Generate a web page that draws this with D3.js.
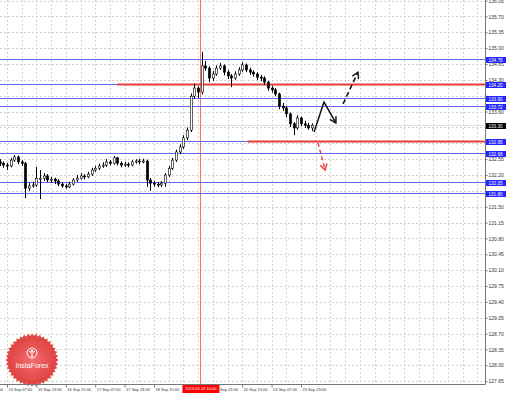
<!DOCTYPE html>
<html>
<head>
<meta charset="utf-8">
<script src="https://cdn.jsdelivr.net/npm/d3@7"></script>
<style>
  html, body { margin: 0; padding: 0; background: #fff; }
  svg { display: block; }
</style>
</head>
<body>
<div id="chart"></div>
<script>
// 2-hour candles, position measured in hours from 13 Sep 07:00 (weekends skipped)
const barIndex = d3.range(-4, 168, 2)
const firstOpen = 132.49
const closes = [
  132.46, 132.42, 132.40, 132.53, 132.60, 132.49, 132.46, 131.91, 131.96, 131.98,
  132.13, 132.13, 132.18, 132.09, 132.11, 132.07, 132.00, 131.96, 131.94, 132.00,
  132.09, 132.13, 132.18, 132.16, 132.22, 132.31, 132.35, 132.40, 132.42, 132.49,
  132.46, 132.58, 132.46, 132.42, 132.44, 132.42, 132.49, 132.51, 132.49, 132.51,
  132.09, 132.02, 132.00, 131.98, 132.02, 132.20, 132.35, 132.53, 132.71, 132.82,
  133.02, 133.19, 133.94, 134.12, 134.03, 134.61, 134.56, 134.34, 134.43, 134.56,
  134.61, 134.47, 134.39, 134.34, 134.43, 134.52, 134.63, 134.52, 134.47, 134.43,
  134.36, 134.34, 134.25, 134.12, 134.08, 133.99, 133.72, 133.68, 133.55, 133.33,
  133.24, 133.46, 133.33, 133.30, 133.24, 133.30
]
const highs = [
  132.55, 132.50, 132.47, 132.58, 132.64, 132.63, 132.53, 132.49, 132.02, 132.05,
  132.38, 132.31, 132.24, 132.22, 132.16, 132.14, 132.11, 132.04, 132.01, 132.05,
  132.13, 132.20, 132.24, 132.22, 132.27, 132.36, 132.40, 132.45, 132.48, 132.55,
  132.53, 132.62, 132.60, 132.50, 132.49, 132.48, 132.53, 132.55, 132.56, 132.56,
  132.54, 132.13, 132.07, 132.04, 132.07, 132.24, 132.40, 132.58, 132.76, 132.88,
  133.08, 133.25, 134.00, 134.22, 134.16, 134.92, 134.72, 134.60, 134.50, 134.62,
  134.67, 134.64, 134.52, 134.43, 134.49, 134.58, 134.69, 134.66, 134.57, 134.51,
  134.47, 134.41, 134.38, 134.28, 134.17, 134.12, 134.02, 133.79, 133.72, 133.58,
  133.37, 133.52, 133.49, 133.40, 133.35, 133.34
]
const lows = [
  132.40, 132.36, 132.31, 132.37, 132.49, 132.44, 132.40, 131.69, 131.85, 131.92,
  131.94, 131.67, 132.07, 132.04, 132.03, 132.00, 131.95, 131.92, 131.90, 131.91,
  131.97, 132.05, 132.10, 132.10, 132.13, 132.18, 132.27, 132.31, 132.36, 132.38,
  132.41, 132.43, 132.41, 132.37, 132.38, 132.37, 132.39, 132.45, 132.44, 132.46,
  131.94, 131.85, 131.94, 131.93, 131.94, 131.94, 132.16, 132.31, 132.49, 132.66,
  132.78, 132.97, 133.15, 133.88, 133.90, 133.98, 134.50, 134.25, 134.28, 134.39,
  134.52, 134.40, 134.32, 134.14, 134.30, 134.39, 134.48, 134.47, 134.41, 134.37,
  134.30, 134.27, 134.19, 134.06, 134.02, 133.94, 133.65, 133.61, 133.48, 133.26,
  133.08, 133.20, 133.28, 133.24, 133.20, 133.17
]

const priceTicks = [
  136.05, 135.70, 135.35, 135.00, 134.65, 134.30, 133.95, 133.60, 133.25, 132.90,
  132.55, 132.20, 131.85, 131.50, 131.15, 130.80, 130.45, 130.10, 129.75, 129.40,
  129.05, 128.70, 128.35, 128.00, 127.65
]
const timeTicks = [-16, 0, 16, 32, 48, 64, 80, 96, 112, 128, 144, 160]
const timeLabels = [
  "12 Sep 15:00", "13 Sep 07:00", "13 Sep 23:00", "16 Sep 15:00", "17 Sep 07:00",
  "17 Sep 23:00", "18 Sep 15:00", "19 Sep 07:00", "19 Sep 23:00", "20 Sep 15:00",
  "23 Sep 07:00", "23 Sep 23:00"
]

const blueLevels = [134.76, 134.20, 133.90, 133.72, 132.95, 132.68, 132.05, 131.80]
const redLevels = [134.20, 132.95]
const redLevelStart = [60, 131]
const cursorIndex = 105
const cursorLabel = "2013.09.19 10:00"

// forecast arrows: [hour index, price]
const forecastMain = [[167.1, 133.15], [172.5, 133.81], [179.0, 133.35]]
const forecastUp = [[182.9, 133.77], [191.0, 134.47]]
const forecastDown = [[169.3, 132.91], [173.1, 132.31]]

const width = 510
const height = 393
const plotRight = 485.5
const plotBottom = 384.5
const lastClose = closes[closes.length - 1]

const svg = d3.select("#chart").append("svg")
  .attr("width", width)
  .attr("height", height)
  .attr("font-family", "Liberation Sans, Arial, sans-serif")

const x = d3.scaleLinear().domain([0, 160]).range([7, 301])
const y = d3.scaleLinear().domain([127.65, 136.05]).range([381.2, 0.6])

svg.append("clipPath").attr("id", "plot")
  .append("rect").attr("x", 0).attr("y", 0).attr("width", plotRight).attr("height", plotBottom)

const plot = svg.append("g").attr("clip-path", "url(#plot)")

// grid
plot.selectAll("line.hgrid").data(priceTicks).join("line")
  .attr("class", "hgrid")
  .attr("x1", 0).attr("x2", plotRight)
  .attr("y1", d => Math.round(y(d)) + 0.5).attr("y2", d => Math.round(y(d)) + 0.5)
  .attr("stroke", "#d2d2d2").attr("stroke-dasharray", "2,2")

plot.selectAll("line.vgrid").data(d3.range(-8, 270, 8)).join("line")
  .attr("class", "vgrid")
  .attr("x1", d => Math.round(x(d)) + 0.5).attr("x2", d => Math.round(x(d)) + 0.5)
  .attr("y1", 0).attr("y2", plotBottom)
  .attr("stroke", "#d2d2d2").attr("stroke-dasharray", "2,2")

// bid line
plot.append("line")
  .attr("x1", 0).attr("x2", plotRight)
  .attr("y1", Math.round(y(lastClose)) + 0.5).attr("y2", Math.round(y(lastClose)) + 0.5)
  .attr("stroke", "#dedede")

// cursor vertical line
plot.append("line")
  .attr("x1", Math.round(x(cursorIndex)) + 0.5).attr("x2", Math.round(x(cursorIndex)) + 0.5)
  .attr("y1", 0).attr("y2", plotBottom)
  .attr("stroke", "#ff6b6b").attr("stroke-width", 1)

// horizontal levels
plot.selectAll("line.blue").data(blueLevels).join("line")
  .attr("class", "blue")
  .attr("x1", 0).attr("x2", plotRight)
  .attr("y1", d => Math.round(y(d)) + 0.5).attr("y2", d => Math.round(y(d)) + 0.5)
  .attr("stroke", "#6464ff").attr("stroke-width", 1)

plot.selectAll("line.red").data(redLevels).join("line")
  .attr("class", "red")
  .attr("x1", (d, i) => x(redLevelStart[i])).attr("x2", plotRight)
  .attr("y1", d => Math.round(y(d)) + 0.5).attr("y2", d => Math.round(y(d)) + 0.5)
  .attr("stroke", "#e83b3b").attr("stroke-width", 2)

// candles
const candles = barIndex.map((t, i) => ({
  t, open: i === 0 ? firstOpen : closes[i - 1], close: closes[i], high: highs[i], low: lows[i]
}))

const cg = plot.append("g")
cg.selectAll("line.wick").data(candles).join("line")
  .attr("class", "wick")
  .attr("x1", d => Math.round(x(d.t)) + 0.5).attr("x2", d => Math.round(x(d.t)) + 0.5)
  .attr("y1", d => y(d.high)).attr("y2", d => y(d.low))
  .attr("stroke", "#000").attr("stroke-width", 1)

cg.selectAll("rect.body").data(candles).join("rect")
  .attr("class", "body")
  .attr("x", d => Math.round(x(d.t)) - 0.6)
  .attr("width", 2.2)
  .attr("y", d => y(Math.max(d.open, d.close)))
  .attr("height", d => Math.max(1, Math.abs(y(d.open) - y(d.close))))
  .attr("fill", d => d.close >= d.open ? "#fff" : "#000")
  .attr("stroke", "#000").attr("stroke-width", 0.6)

// arrows
const defs = svg.append("defs")
function marker(id, color) {
  defs.append("marker").attr("id", id)
    .attr("viewBox", "0 0 8 8").attr("refX", 7).attr("refY", 4)
    .attr("markerWidth", 8).attr("markerHeight", 8)
    .attr("markerUnits", "userSpaceOnUse").attr("orient", "auto")
    .append("path").attr("d", "M1,0.5 L7,4 L1,7.5")
    .attr("fill", "none").attr("stroke", color).attr("stroke-width", 1.4)
}
marker("headBlack", "#111")
marker("headRed", "#e83b3b")

const line = d3.line().x(d => x(d[0])).y(d => y(d[1]))

svg.append("path").attr("d", line(forecastMain))
  .attr("fill", "none").attr("stroke", "#111").attr("stroke-width", 1.5)
  .attr("marker-end", "url(#headBlack)")

svg.append("path").attr("d", line(forecastUp))
  .attr("fill", "none").attr("stroke", "#111").attr("stroke-width", 1.5)
  .attr("stroke-dasharray", "5,3")
  .attr("marker-end", "url(#headBlack)")

svg.append("path").attr("d", line(forecastDown))
  .attr("fill", "none").attr("stroke", "#e83b3b").attr("stroke-width", 1.4)
  .attr("stroke-dasharray", "4,3")
  .attr("marker-end", "url(#headRed)")

// logo
const logo = svg.append("g").attr("transform", "translate(32,360)").attr("opacity", 0.92)
const grad = defs.append("radialGradient").attr("id", "logoGrad")
grad.append("stop").attr("offset", "0%").attr("stop-color", "#f26262")
grad.append("stop").attr("offset", "100%").attr("stop-color", "#dc2f2f")
const teeth = 40
const starPts = d3.range(teeth * 2).map(k => {
  const r = k % 2 === 0 ? 26.5 : 24
  const a = Math.PI * k / teeth
  return [r * Math.cos(a), r * Math.sin(a)]
})
logo.append("path").attr("d", d3.line()(starPts) + "Z").attr("fill", "url(#logoGrad)")
logo.append("circle").attr("cx", 0).attr("cy", -7).attr("r", 5)
  .attr("fill", "none").attr("stroke", "#fff").attr("stroke-width", 1)
logo.append("circle").attr("cx", 0).attr("cy", -9.3).attr("r", 1.2).attr("fill", "#fff")
logo.append("path").attr("d", "M-3,-9 L0,-6.5 L3,-9 M0,-6.5 L0,-3.5 M-1.6,-2.6 L0,-4 L1.6,-2.6")
  .attr("fill", "none").attr("stroke", "#fff").attr("stroke-width", 1)
logo.append("text").attr("x", 0).attr("y", 8)
  .attr("text-anchor", "middle").attr("font-size", "7px").attr("fill", "#fff")
  .text("InstaForex")

// frame
svg.append("line").attr("x1", plotRight).attr("x2", plotRight).attr("y1", 0).attr("y2", plotBottom)
  .attr("stroke", "#777")
svg.append("line").attr("x1", 0).attr("x2", plotRight).attr("y1", plotBottom).attr("y2", plotBottom)
  .attr("stroke", "#777")

// price axis (tick labels hidden where a level tag covers them, as on the terminal)
const tagValues = blueLevels.concat([lastClose])
const covered = v => tagValues.some(t => Math.abs(y(t) - y(v)) < 4.5)
const yAxis = svg.append("g")
  .attr("transform", `translate(${plotRight},0)`)
  .call(d3.axisRight(y).tickValues(priceTicks).tickFormat(d3.format(".2f")).tickSize(2).tickPadding(1))
yAxis.select(".domain").remove()
yAxis.selectAll("line").attr("stroke", "#777")
yAxis.selectAll("text").attr("font-size", "5px").attr("fill", "#333")
  .attr("font-family", "Liberation Sans, Arial, sans-serif")
  .attr("display", d => covered(d) ? "none" : null)

// time axis
const cx = x(cursorIndex)
const xAxis = svg.append("g")
  .attr("transform", `translate(0,${plotBottom})`)
  .call(d3.axisBottom(x).tickValues(timeTicks).tickFormat((d, i) => timeLabels[i]).tickSize(3).tickPadding(1))
xAxis.select(".domain").remove()
xAxis.selectAll("line").attr("stroke", "#777")
xAxis.selectAll("text").attr("font-size", "4px").attr("fill", "#333")
  .attr("text-anchor", "start").attr("dx", 1)
  .attr("font-family", "Liberation Sans, Arial, sans-serif")
  .attr("display", d => (x(d) > cx - 18 && x(d) < cx + 10) ? "none" : null)

// level labels on price axis
const tags = svg.append("g")
function tag(v, fill) {
  const yy = Math.round(y(v)) + 0.5
  tags.append("rect").attr("x", plotRight + 0.5).attr("y", yy - 2.5)
    .attr("width", 20).attr("height", 6).attr("fill", fill)
  tags.append("text").attr("x", plotRight + 3).attr("y", yy + 0.5)
    .attr("dy", "0.35em").attr("font-size", "4.6px").attr("fill", "#fff")
    .text(d3.format(".2f")(v))
}
blueLevels.forEach(v => tag(v, "#2424ff"))
tag(lastClose, "#000")

// cursor time label
svg.append("rect").attr("x", cx - 17.5).attr("y", plotBottom + 0.5)
  .attr("width", 37).attr("height", 8).attr("fill", "#ff0000")
svg.append("text").attr("x", cx + 1).attr("y", plotBottom + 4.5)
  .attr("dy", "0.35em").attr("text-anchor", "middle")
  .attr("font-size", "4px").attr("fill", "#fff")
  .text(cursorLabel)
</script>
</body>
</html>
